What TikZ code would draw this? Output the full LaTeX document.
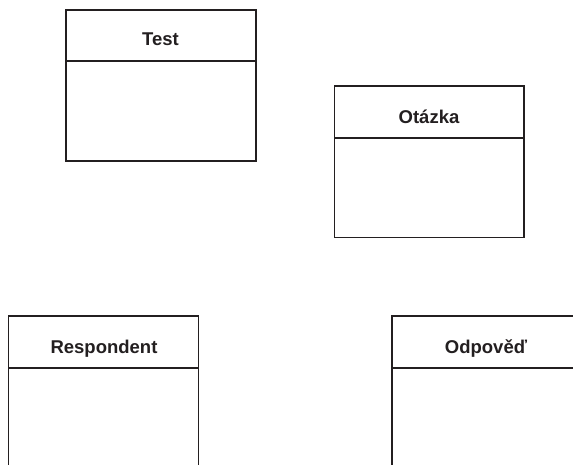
\documentclass[tikz,border=0pt]{standalone}
\usepackage{fontspec}
\setmainfont{Liberation Sans}
\definecolor{ink}{HTML}{231F20}
\begin{document}
\begin{tikzpicture}[x=1pt,y=-1pt,
  classbox/.style={draw=ink, line width=1.6pt},
  classname/.style={font=\bfseries\fontsize{18.5}{22}\selectfont, text=ink, anchor=base, inner sep=0pt}]
  \fill[white] (0,0) rectangle (573,464);
  \clip (0,0) rectangle (573,464);
  % Test
  \draw[classbox] (66,10) rectangle (256,161);
  \draw[classbox] (66,61) -- (256,61);
  \node[classname] (test) at (160.5,45.7) {Test};
  % Otázka
  \draw[classbox] (334.5,86) rectangle (524,237.5);
  \draw[classbox] (334.5,138) -- (524,138);
  \node[classname] (otazka) at (429,123.3) {Otázka};
  % Respondent
  \draw[classbox] (8.5,316) rectangle (198.5,480);
  \draw[classbox] (8.5,368) -- (198.5,368);
  \node[classname] (respondent) at (104,353.3) {Respondent};
  % Odpověď
  \draw[classbox] (392,316) rectangle (582,480);
  \draw[classbox] (392,368) -- (582,368);
  \node[classname] (odpoved) at (486,353.3) {Odpověď};
\end{tikzpicture}
\end{document}
